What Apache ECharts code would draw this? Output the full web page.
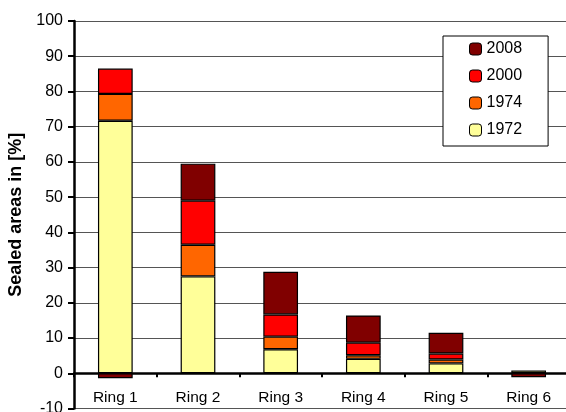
<!DOCTYPE html>
<html>
<head>
<meta charset="utf-8">
<script src="https://cdn.jsdelivr.net/npm/echarts@6/dist/echarts.min.js"></script>
<style>html,body{margin:0;padding:0;background:#fff}#c{width:566px;height:412px}</style>
</head>
<body>
<div id="c"></div>
<script>
const categories = ['Ring 1', 'Ring 2', 'Ring 3', 'Ring 4', 'Ring 5', 'Ring 6'];
const v1972 = [71.7, 27.5, 6.8, 4.1, 2.8, 0.8];
const v1974 = [7.6, 9.0, 3.6, 1.0, 1.1, null];
const v2000 = [7.2, 12.5, 6.3, 3.6, 1.7, null];
const v2008 = [-1.4, 10.5, 12.1, 7.7, 5.9, -1.1];
const yTicks = { min: -10, max: 100, interval: 10 };

const font = 'Liberation Sans, Arial, sans-serif';
const W = 566, H = 412;
const gridTop = 21, gridBottom = 3.5;
// distance (px) of the zero line above the grid's bottom edge, from the y scale
const zeroOffset = (0 - yTicks.min) / (yTicks.max - yTicks.min) * (H - gridTop - gridBottom);

function mk(name, data, color) {
  return {
    name: name, type: 'bar', stack: 'total', data: data, barWidth: '42%',
    itemStyle: { color: color, borderColor: '#000', borderWidth: 1.2 },
    emphasis: { disabled: true }
  };
}
const chart = echarts.init(document.getElementById('c'));
chart.setOption({
  animation: false,
  textStyle: { fontFamily: font },
  grid: { left: 74, right: -4, top: gridTop, bottom: gridBottom, containLabel: false, outerBoundsMode: 'none' },
  legend: {
    orient: 'vertical', left: 443, top: 36,
    data: ['2008', '2000', '1974', '1972'],
    padding: [5, 26, 8, 26],
    itemGap: 11, itemWidth: 12, itemHeight: 12,
    borderColor: '#000', borderWidth: 1, backgroundColor: '#fff',
    textStyle: { fontSize: 16, color: '#000', fontFamily: font },
    itemStyle: { borderColor: '#000', borderWidth: 1 }
  },
  xAxis: {
    type: 'category', data: categories, position: 'bottom', offset: -zeroOffset,
    axisLine: { onZero: false, lineStyle: { color: '#000', width: 2.5 } },
    axisTick: { show: true, length: 4, lineStyle: { color: '#000', width: 2 } },
    axisLabel: { color: '#000', fontSize: 15.5, margin: 16, fontFamily: font },
    splitLine: { show: false }
  },
  yAxis: {
    type: 'value', min: yTicks.min, max: yTicks.max, interval: yTicks.interval,
    name: 'Sealed areas in [%]', nameLocation: 'middle', nameGap: 47,
    nameTextStyle: { fontSize: 18, fontWeight: 'bold', color: '#000', fontFamily: font },
    axisLine: { show: true, lineStyle: { color: '#000', width: 2.5 } },
    axisTick: { show: true, length: 6, lineStyle: { color: '#000', width: 2 } },
    axisLabel: { color: '#000', fontSize: 16, margin: 11, fontFamily: font },
    splitLine: { show: true, lineStyle: { color: '#555', width: 1 } }
  },
  series: [
    mk('1972', v1972, '#FFFF99'),
    mk('1974', v1974, '#FF6600'),
    mk('2000', v2000, '#FF0000'),
    mk('2008', v2008, '#800000')
  ]
});
</script>
</body>
</html>
